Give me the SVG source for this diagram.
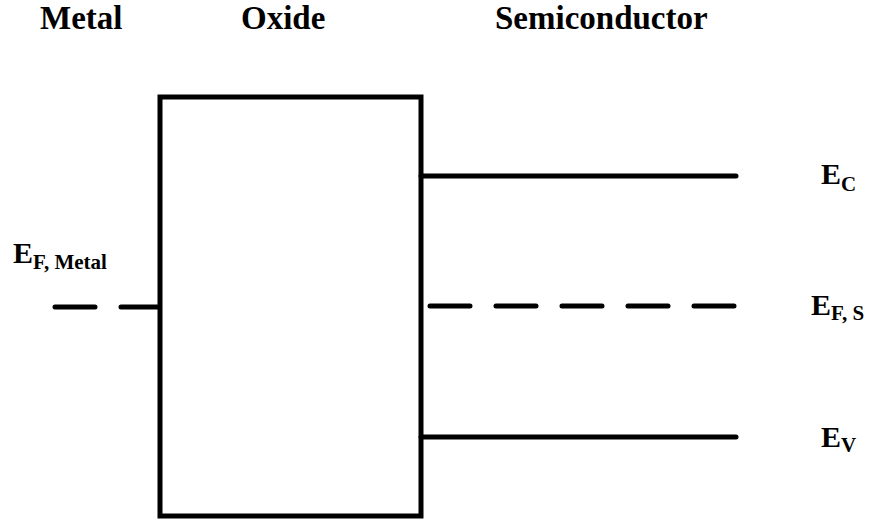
<svg xmlns="http://www.w3.org/2000/svg" width="873" height="520" viewBox="0 0 873 520">
  <style>
    .hdr { font-family: "Liberation Serif", "Times New Roman", serif; font-weight: bold; font-size: 33px; fill: #000; }
    .lbl { font-family: "Liberation Serif", "Times New Roman", serif; font-weight: bold; font-size: 30px; fill: #000; }
    .sub { font-size: 21px; }
    .band { stroke: #000; stroke-width: 5; stroke-linecap: round; fill: none; }
    .fermi { stroke-dasharray: 40 26; }
  </style>
  <rect width="873" height="520" fill="#fff"/>

  <!-- region headings -->
  <text class="hdr" x="40" y="29">Metal</text>
  <text class="hdr" x="241" y="29">Oxide</text>
  <text class="hdr" x="495" y="29">Semiconductor</text>

  <!-- oxide layer -->
  <g id="oxide">
    <rect x="160" y="97" width="261" height="419" fill="none" stroke="#000" stroke-width="5"/>
  </g>

  <!-- energy levels -->
  <g id="levels">
    <line class="band fermi" x1="55" y1="307" x2="158" y2="307"/>
    <line class="band" x1="421" y1="176" x2="736" y2="176"/>
    <line class="band fermi" x1="430" y1="306" x2="736" y2="306"/>
    <line class="band" x1="421" y1="437" x2="736" y2="437"/>
  </g>

  <!-- level labels -->
  <g id="labels">
    <text class="lbl" x="13" y="263">E<tspan class="sub" dy="6">F, Metal</tspan></text>
    <text class="lbl" x="821" y="184">E<tspan class="sub" dy="7">C</tspan></text>
    <text class="lbl" x="811" y="315">E<tspan class="sub" dy="5">F, S</tspan></text>
    <text class="lbl" x="821" y="447">E<tspan class="sub" dy="5">V</tspan></text>
  </g>
</svg>
